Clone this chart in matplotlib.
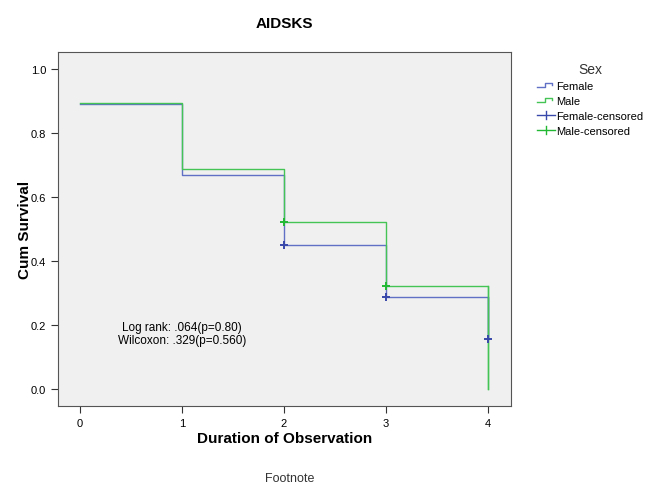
import numpy as np
import matplotlib
matplotlib.use("Agg")
import matplotlib.pyplot as plt
from matplotlib.lines import Line2D
from matplotlib.legend_handler import HandlerBase

plt.rcParams['font.family'] = ['Liberation Sans', 'DejaVu Sans']

# survival step data
times = [0, 1, 2, 3, 4]
female_surv = [0.891, 0.670, 0.450, 0.288, 0.156]
male_surv = [0.894, 0.687, 0.522, 0.322, 0.0]
# censored points
female_cens_t = [2, 3, 4]
female_cens_s = [0.450, 0.288, 0.156]
male_cens_t = [2, 3]
male_cens_s = [0.522, 0.322]

blue = '#6070c4'
green = '#44c455'


class StepHandler(HandlerBase):
    def create_artists(self, legend, orig, xd, yd, w, h, fontsize, trans):
        xs = [xd, xd + w * 0.45, xd + w * 0.45, xd + w * 0.85, xd + w * 0.85]
        ys = [yd + h * 0.2, yd + h * 0.2, yd + h * 0.8, yd + h * 0.8, yd + h * 0.5]
        ln = Line2D(xs, ys, color=orig.get_color(), lw=1.0, transform=trans)
        return [ln]


class CrossHandler(HandlerBase):
    def create_artists(self, legend, orig, xd, yd, w, h, fontsize, trans):
        c = orig.get_color()
        hl = Line2D([xd, xd + w], [yd + h / 2, yd + h / 2], color=c, lw=1.0, transform=trans)
        vl = Line2D([xd + w / 2, xd + w / 2], [yd, yd + h], color=c, lw=1.0, transform=trans)
        return [hl, vl]


fig = plt.figure(figsize=(6.51, 4.85), dpi=100)
ax = fig.add_axes([58 / 651, 1 - 407 / 485, 453 / 651, 354 / 485])
ax.set_facecolor('#f0f0f0')

fem_line, = ax.step(times, female_surv, where='post', color=blue, lw=1.0)
male_line, = ax.step(times, male_surv, where='post', color=green, lw=1.0)
# final drop at t=4
ax.plot([4, 4], [female_surv[3], female_surv[4]], color=blue, lw=1.0)
ax.plot([4, 4], [male_surv[3], male_surv[4]], color=green, lw=1.0)

fc, = ax.plot(female_cens_t, female_cens_s, '+', color='#3848aa', ms=6, mew=1.4, ls='none')
mc, = ax.plot(male_cens_t, male_cens_s, '+', color='#22b833', ms=6, mew=1.4, ls='none')

ax.set_xlim(-0.215, 4.225)
ax.set_ylim(-0.053, 1.053)
ax.set_xticks([0, 1, 2, 3, 4])
ax.set_yticks([0.0, 0.2, 0.4, 0.6, 0.8, 1.0])
ax.set_yticklabels(['0.0', '0.2', '0.4', '0.6', '0.8', '1.0'])
ax.tick_params(labelsize=8, color='#333333', length=5)
for s in ax.spines.values():
    s.set_color('#555555')

ax.set_xlabel('Duration of Observation', fontsize=11, fontweight='bold', labelpad=2)
ax.set_ylabel('Cum Survival', fontsize=11, fontweight='bold', labelpad=-1)
ax.set_title('AIDSKS', fontsize=11, fontweight='bold', pad=18)

ax.text(1.0, 0.173, 'Log rank: .064(p=0.80)\nWilcoxon: .329(p=0.560)', ha='center', va='center',
        fontsize=8.5, linespacing=1.1)

fig.text(290 / 651, 1 - 479 / 485, 'Footnote', ha='center', va='center', fontsize=9, color='#333333')

leg = fig.legend([fem_line, male_line, fc, mc],
                 ['Female', 'Male', 'Female-censored', 'Male-censored'],
                 handler_map={fem_line: StepHandler(), male_line: StepHandler(),
                              fc: CrossHandler(), mc: CrossHandler()},
                 loc='upper left', bbox_to_anchor=(527 / 651, 1 - 53 / 485),
                 frameon=False, fontsize=8, title='Sex', title_fontsize=10,
                 handlelength=1.6, handletextpad=0.1, labelspacing=0.45)
leg.get_title().set_color('#333333')

fig.savefig('out.png', dpi=100)
